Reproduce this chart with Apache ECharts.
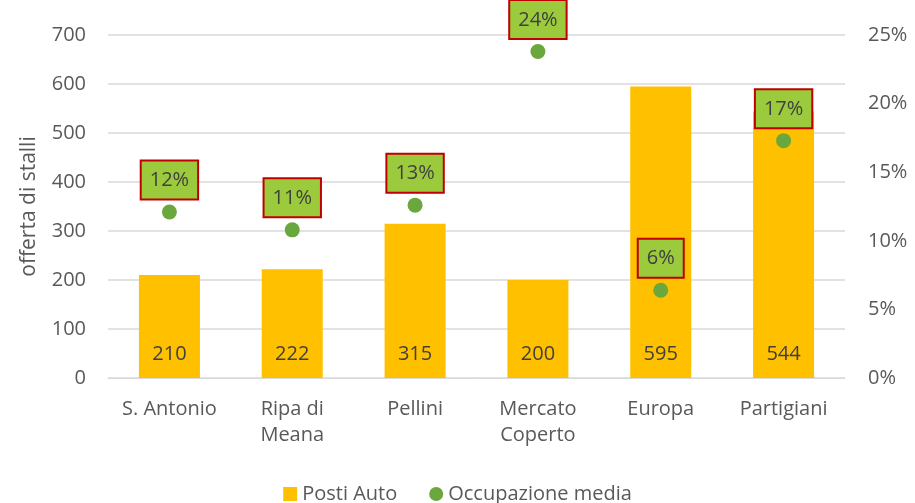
<!DOCTYPE html>
<html>
<head>
<meta charset="utf-8">
<script src="https://cdn.jsdelivr.net/npm/echarts@6/dist/echarts.min.js"></script>
<style>
    html, body { margin: 0; padding: 0; background: #fff; }
    #main { width: 915px; height: 503px; }
</style>
</head>
<body>
<div id="main"></div>
<script type="text/javascript">
    // dati
    var categorie = ['S. Antonio', 'Ripa di\nMeana', 'Pellini', 'Mercato\nCoperto', 'Europa', 'Partigiani'];
    var postiAuto = [210, 222, 315, 200, 595, 544];
    var occupazione = [0.121, 0.108, 0.126, 0.238, 0.064, 0.173];

    var font = '"Open Sans", sans-serif';
    var myChart = echarts.init(document.getElementById('main'));

    var option = {
        animation: false,
        textStyle: { fontFamily: font },
        grid: { left: 108, right: 70, top: 35, bottom: 125 },
        legend: {
            top: 479,
            left: 'center',
            itemWidth: 14,
            itemHeight: 14,
            itemGap: 32,
            textStyle: { fontSize: 20, color: '#595959', fontFamily: font },
            data: [
                { name: 'Posti Auto', icon: 'rect' },
                { name: 'Occupazione media', icon: 'circle' }
            ]
        },
        xAxis: {
            type: 'category',
            data: categorie,
            axisLine: { lineStyle: { color: '#D9D9D9' } },
            axisTick: { show: false },
            axisLabel: { interval: 0, fontSize: 20, color: '#595959', lineHeight: 26, margin: 18 }
        },
        yAxis: [{
            type: 'value',
            min: 0,
            max: 700,
            interval: 100,
            name: 'offerta di stalli',
            nameLocation: 'middle',
            nameGap: 68,
            nameTextStyle: { fontSize: 21, color: '#595959' },
            axisLabel: { fontSize: 20, color: '#595959', margin: 22 },
            splitLine: { lineStyle: { color: '#D9D9D9', width: 1.5 } }
        }, {
            type: 'value',
            min: 0,
            max: 0.25,
            interval: 0.05,
            axisLabel: {
                fontSize: 20, color: '#595959', margin: 23,
                formatter: function (v) { return Math.round(v * 100) + '%'; }
            },
            splitLine: { show: false }
        }],
        series: [{
            name: 'Posti Auto',
            type: 'bar',
            data: postiAuto,
            barWidth: 61,
            itemStyle: { color: '#FFC000' },
            label: {
                show: true,
                position: 'insideBottom',
                distance: 14,
                fontSize: 20,
                color: '#404040'
            }
        }, {
            name: 'Occupazione media',
            type: 'scatter',
            yAxisIndex: 1,
            data: occupazione,
            symbolSize: 15,
            itemStyle: { color: '#6AA83E', opacity: 1 },
            emphasis: { disabled: true },
            label: {
                show: true,
                position: 'top',
                distance: 6,
                fontSize: 20,
                color: '#404040',
                backgroundColor: '#9BCB3C',
                borderColor: '#C00000',
                borderWidth: 2,
                padding: [9, 8, 8, 8],
                formatter: function (p) { return Math.round(p.value * 100) + '%'; }
            }
        }]
    };
    myChart.setOption(option);
</script>
</body>
</html>
